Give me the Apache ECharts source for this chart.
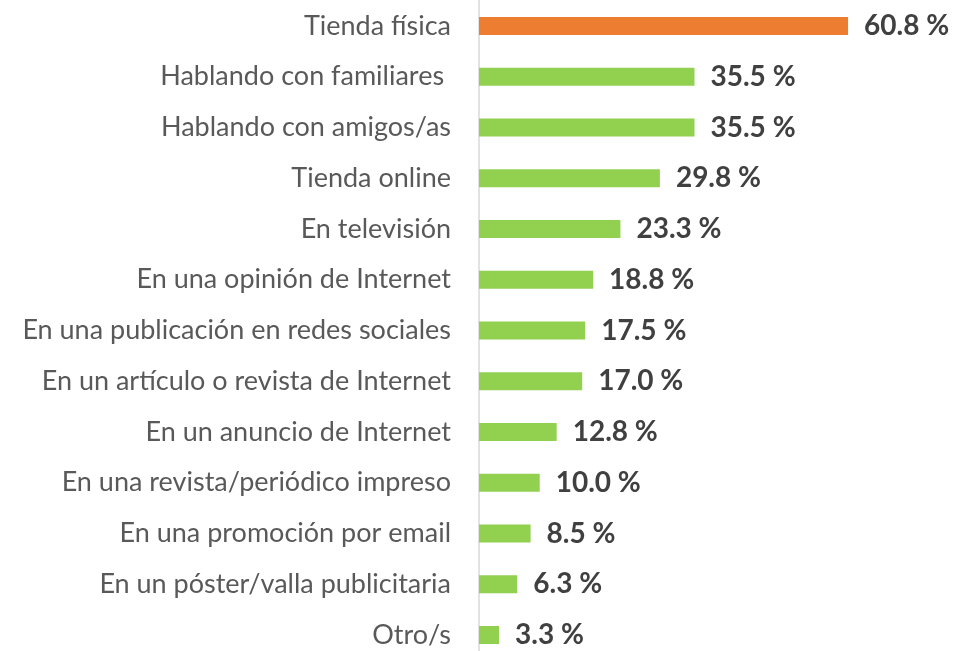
<!DOCTYPE html>
<html><head><meta charset="utf-8">
<script src="https://cdn.jsdelivr.net/npm/echarts@6/dist/echarts.min.js"></script>
<style>html,body{margin:0;padding:0;background:#fff}#c{width:958px;height:651px}</style>
</head><body><div id="c"></div>
<script>
const categories = ["Tienda física","Hablando con familiares ","Hablando con amigos/as","Tienda online","En televisión","En una opinión de Internet","En una publicación en redes sociales","En un artículo o revista de Internet","En un anuncio de Internet","En una revista/periódico impreso","En una promoción por email","En un póster/valla publicitaria","Otro/s"];
const values = [60.8,35.5,35.5,29.8,23.3,18.8,17.5,17.0,12.8,10.0,8.5,6.3,3.3];
const highlightIndex = 0;

const chart = echarts.init(document.getElementById('c'), null, {renderer:'canvas'});
chart.setOption({
  animation:false,
  grid:{left:479, top:0.6, width:485.6, height:659.75, containLabel:false, outerBoundsMode:'none'},
  xAxis:{type:'value', min:0, max:80, show:false},
  yAxis:{type:'category', data:categories, inverse:true,
    axisLine:{show:true, lineStyle:{color:'#d9d9d9', width:1.5}},
    axisTick:{show:false},
    axisLabel:{margin:28, color:'#595959', fontSize:27, fontFamily:'Lato'}},
  series:[{type:'bar', barWidth:18,
    data: values.map((v,i)=>({value:v, itemStyle:{color: i===highlightIndex ? '#ed7d31' : '#92d050'}})),
    label:{show:true, position:'right', distance:16, color:'#404040', fontSize:28, fontWeight:'bold', fontFamily:'Lato',
      formatter:p=>p.value.toFixed(1)+' %'}
  }]
});
</script></body></html>
